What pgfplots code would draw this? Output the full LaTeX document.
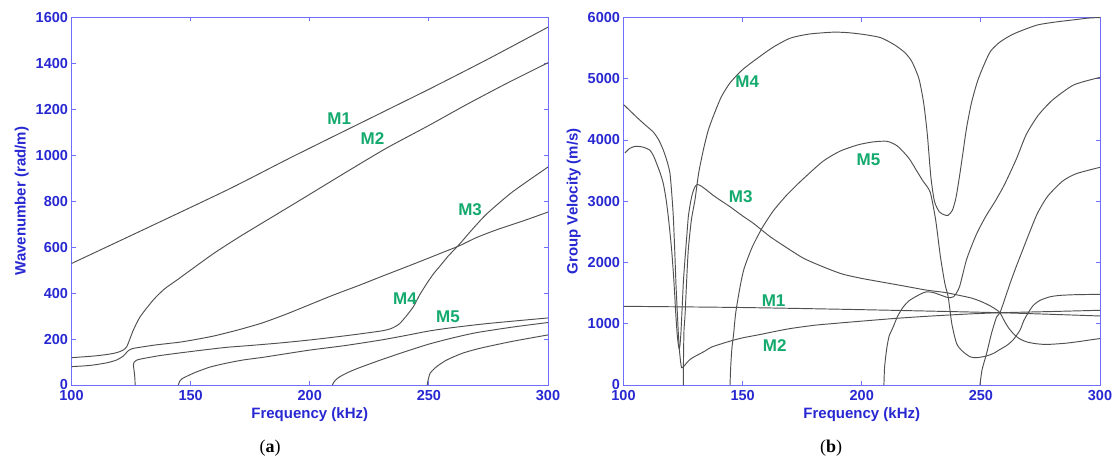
\documentclass[border=0pt]{standalone}
\usepackage{fontspec}
\setmainfont{Liberation Sans}
\newfontfamily\capfont{Liberation Serif}
\usepackage{pgfplots}
\pgfplotsset{compat=1.18}
\definecolor{axblue}{RGB}{110,110,250}
\definecolor{tickblue}{RGB}{40,40,210}
\definecolor{mgreen}{RGB}{20,170,110}
\definecolor{curve}{RGB}{80,80,80}
\tikzset{lab/.style={font=\fontsize{17}{20}\selectfont\bfseries, text=mgreen},
  cv/.style={curve, solid, line width=0.95pt, smooth, tension=0.4, mark=none}}
\pgfplotsset{
  myax/.style={
    scale only axis, width=476.5pt, height=367.5pt,
    xmin=100, xmax=300, xtick={100,150,...,300},
    axis line style={axblue, line width=0.9pt},
    tick style={axblue, line width=0.8pt}, major tick length=4pt,
    tick label style={font=\fontsize{14.5}{16}\selectfont\bfseries, color=tickblue},
    x tick label style={yshift=-1.5pt},
    label style={font=\fontsize{15}{18}\selectfont\bfseries, color=tickblue},
    /pgf/number format/assume math mode=true,
    /pgf/number format/1000 sep={},
    scaled ticks=false,
  },
}
\begin{document}
\begin{tikzpicture}
\useasboundingbox (0,0) rectangle (1115pt,464pt);
% ---------------- (a) ----------------
\begin{axis}[myax, at={(71.5pt,79pt)}, anchor=south west,
  ymin=0, ymax=1600, ytick={0,200,...,1600},
  xlabel={Frequency (kHz)}, ylabel={Wavenumber (rad/m)}]
\addplot[cv] coordinates {(100,529) (133,690) (166.5,855) (192,990) (218.3,1125) (250.5,1290) (275,1420) (300,1558)};
\addplot[cv] coordinates {(100,119) (109.2,126) (115,133) (119,141) (121.7,152) (123.2,167) (124.6,203) (126,240) (128.8,297) (134.3,370) (139,418) (144,455) (151,508) (160,575) (170,642) (180,705) (196,805) (215,925) (232,1030) (250,1130) (266,1222) (283,1315) (300,1403)};
\addplot[cv] coordinates {(100,80) (105,83) (109.2,87) (115,97) (119,109) (121.7,126) (123.9,150) (125.5,158) (127.4,162) (135,174) (145,186) (151,196) (160,214) (170,240) (180,270) (190,308) (200,350) (210,392) (221,435) (230,472) (240.7,515) (250,553) (256,578) (263,607) (270,642) (278.5,676) (290,716) (300,753)};
\addplot[cv] coordinates {(126.7,0) (126.6,30) (126.3,60) (126.0,85) (126.3,100) (127.3,108) (129,113) (131,117) (137,128) (144.2,138) (155,152) (165.1,164) (175,172) (187.5,183) (200,196) (215.5,215) (225,228) (231,237) (234,245) (236.5,258) (238,270) (240.5,300) (243.5,341) (246,390) (249,440) (252,485) (255,522) (258,560) (263,615) (268,675) (274.3,745) (285,840) (300,949)};
\addplot[cv] coordinates {(144.8,0) (145.5,18) (146.5,28) (148.4,38) (152,55) (158.1,78) (165,95) (172.1,109) (180,120) (187.5,132) (200,152) (215,172) (230,196) (240,215) (250,235) (260,250) (275,268) (300,292)};
\addplot[cv] coordinates {(209.5,0) (210.3,15) (212,32) (215.5,52) (220,72) (229.5,108) (240,145) (250,178) (260,205) (270,228) (285,252) (300,272)};
\addplot[cv] coordinates {(249.3,0) (249.6,18) (250.5,51) (252,68) (253.5,82) (257.5,109) (264,138) (271.5,160) (285,190) (300,218)};
\node[lab] at (axis cs:212.4,1160) {M1};
\node[lab] at (axis cs:226.3,1075) {M2};
\node[lab] at (axis cs:267.3,762) {M3};
\node[lab] at (axis cs:240,374) {M4};
\node[lab] at (axis cs:258,297) {M5};
\end{axis}
% ---------------- (b) ----------------
\begin{axis}[myax, at={(623.5pt,79pt)}, anchor=south west,
  ymin=0, ymax=6000, ytick={0,1000,...,6000},
  xlabel={Frequency (kHz)}, ylabel={Group Velocity (m/s)}]
\addplot[cv] coordinates {(100,1285) (150,1265) (200,1230) (258,1180) (300,1127)};
\addplot[cv] coordinates {(100,4580) (105.5,4374) (109,4250) (112.5,4130) (114.8,4000) (116.7,3836) (118.3,3650) (119.5,3456) (120.3,3100) (120.9,2752) (121.5,2200) (122,1666) (122.5,1250) (123,854) (123.5,560) (124,366) (124.4,282) (125.2,300) (126.5,360) (128,420) (130.2,472) (134,550) (137,620) (144.7,716) (150,770) (157.3,824) (163,870) (169.9,921) (180,975) (190,1010) (200,1043) (215,1090) (228.7,1125) (245,1160) (258,1180) (280,1200) (300,1220)};
\addplot[cv] coordinates {(100.6,3789) (102.5,3860) (104.5,3893) (106.2,3897) (108.5,3880) (111.1,3833) (112.6,3740) (113.9,3616) (115.4,3460) (116.7,3290) (117.8,3050) (118.8,2748) (119.6,2450) (120.2,2206) (120.8,1900) (121.2,1664) (121.6,1400) (122,1122) (122.6,797) (123.1,634) (123.4,590) (123.7,650) (124.1,851) (124.6,1250) (125.1,1664) (125.6,1950) (126.1,2206) (126.7,2500) (127.2,2748) (127.9,2930) (128.6,3073) (129.3,3170) (130,3236) (131,3274) (132.5,3250) (134.9,3182) (137.5,3100) (140.5,3020) (144.7,2911) (150,2760) (154.5,2640) (161.5,2423) (169.9,2206) (176,2060) (185,1910) (192,1810) (200,1740) (210,1670) (220,1600) (227,1550) (235,1510) (241,1463) (246,1420) (250,1365) (254,1290) (256.5,1230) (258,1180) (259.8,1050) (261.5,940) (263.6,840) (266,760) (269.2,704) (273,675) (277.6,662) (285,680) (290.2,704) (300,759)};
\addplot[cv] coordinates {(125.1,0) (125.2,500) (125.4,900) (125.8,1121) (126.5,1700) (127.2,2210) (128.5,2700) (130,3023) (131.5,3450) (133.5,3836) (135.5,4150) (137.7,4390) (141,4700) (144.7,4932) (150,5150) (157.3,5366) (163,5520) (170,5663) (178,5730) (188.2,5761) (195,5750) (201.7,5718) (208,5670) (213.7,5555) (218,5430) (221,5283) (224,5000) (226,4600) (227.5,4100) (229,3400) (230.5,3000) (232.5,2830) (234.5,2780) (236.2,2770) (238,2850) (239.5,3050) (241,3400) (242.5,3800) (244,4200) (246,4600) (248.5,4950) (251,5200) (254,5446) (258,5600) (263,5718) (268,5800) (274,5881) (282,5930) (289,5962) (295,5990) (300,6000)};
\addplot[cv] coordinates {(144.7,0) (145,300) (145.5,600) (146.2,826) (147,1150) (148,1400) (149.3,1680) (150.7,1913) (154,2250) (158.2,2565) (163,2850) (168.7,3109) (175,3350) (183.7,3652) (191,3820) (198.7,3924) (205,3970) (210.7,3978) (215,3900) (219.7,3707) (223,3500) (225.7,3330) (228.7,3150) (231,2700) (233,2100) (234.9,1653) (236.3,1436) (237.8,1000) (239.8,678) (242.2,554) (245.5,460) (248.2,446) (252,470) (255.2,515) (258,580) (261,650) (263.6,740) (266.4,894) (268,1050) (269.9,1182) (272,1300) (274.8,1382) (279,1440) (283.2,1463) (290,1475) (300,1480)};
\addplot[cv] coordinates {(209.3,0) (209.6,300) (210.5,600) (211.5,800) (213.2,948) (215,1120) (217.4,1273) (220,1380) (224.4,1480) (227,1520) (230,1510) (233,1470) (236,1430) (238.5,1440) (241,1600) (244,2050) (248,2450) (252,2750) (256,3000) (260,3280) (265,3700) (269,4087) (274,4400) (280,4650) (289,4900) (300,5022)};
\addplot[cv] coordinates {(249.6,0) (250.5,250) (252.4,515) (254.5,850) (256.6,1111) (258,1180) (260,1400) (262.2,1653) (264.5,1900) (267,2150) (270,2450) (273.7,2800) (278,3080) (284.2,3326) (290,3450) (300,3554)};
\node[lab] at (axis cs:151.9,4957) {M4};
\node[lab] at (axis cs:202.8,3679) {M5};
\node[lab] at (axis cs:149.2,3082) {M3};
\node[lab] at (axis cs:163,1370) {M1};
\node[lab] at (axis cs:163.5,647) {M2};
\end{axis}
\node[font=\capfont\fontsize{18}{20}\selectfont] at (270pt,16pt) {(\textbf{a})};
\node[font=\capfont\fontsize{18}{20}\selectfont] at (831pt,16pt) {(\textbf{b})};
\end{tikzpicture}
\end{document}
